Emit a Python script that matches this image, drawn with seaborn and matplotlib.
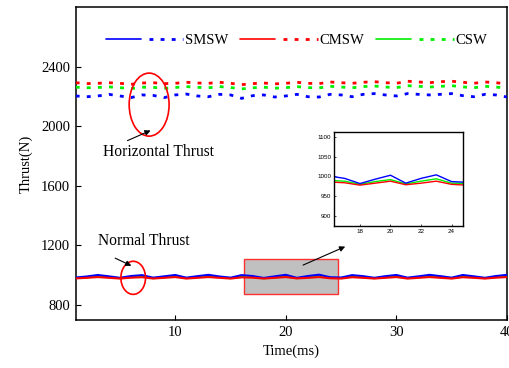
import numpy as np
import pandas as pd
import matplotlib
matplotlib.use("Agg")
import matplotlib.pyplot as plt
import seaborn as sns
from matplotlib.lines import Line2D
from matplotlib.patches import Ellipse, Rectangle
from matplotlib.legend_handler import HandlerTuple

# ---------------- data ----------------
time_ms = list(range(1, 41))
series_names = ["SMSW", "CMSW", "CSW"]
series_colors = ["#0000ff", "#ff0000", "#00ee00"]

horiz_smsw = [2203, 2198, 2203, 2214, 2203, 2192, 2210, 2207, 2192, 2210,
              2216, 2203, 2198, 2214, 2210, 2187, 2205, 2210, 2196, 2203,
              2214, 2198, 2196, 2214, 2210, 2198, 2214, 2219, 2210, 2203,
              2219, 2214, 2210, 2214, 2219, 2205, 2198, 2214, 2210, 2196]
horiz_cmsw = [2292, 2286, 2288, 2292, 2288, 2281, 2290, 2292, 2286, 2288,
              2295, 2290, 2288, 2295, 2288, 2279, 2286, 2290, 2284, 2288,
              2295, 2288, 2286, 2297, 2292, 2288, 2295, 2299, 2292, 2288,
              2302, 2297, 2292, 2299, 2302, 2295, 2288, 2297, 2292, 2284]
horiz_csw = [2262, 2258, 2260, 2264, 2259, 2252, 2262, 2261, 2254, 2260,
             2266, 2261, 2258, 2266, 2260, 2250, 2258, 2262, 2255, 2259,
             2266, 2259, 2257, 2268, 2263, 2258, 2266, 2270, 2263, 2259,
             2272, 2268, 2263, 2268, 2272, 2264, 2258, 2268, 2263, 2255]

norm_smsw = [985, 992, 1002, 993, 983, 995, 1001, 984, 993, 1002,
             984, 994, 1003, 992, 984, 1001, 995, 982, 993, 1003,
             983, 995, 1004, 987, 985, 1001, 994, 983, 994, 1002,
             984, 993, 1003, 994, 984, 1002, 993, 983, 995, 1003]
norm_cmsw = [979, 983, 988, 983, 978, 984, 987, 978, 983, 988,
             978, 983, 988, 983, 978, 986, 984, 978, 983, 988,
             979, 983, 988, 980, 978, 987, 983, 978, 983, 988,
             978, 983, 988, 983, 978, 987, 983, 978, 984, 988]
norm_csw = [982, 987, 993, 987, 981, 988, 992, 981, 987, 993,
            981, 987, 993, 987, 981, 990, 988, 980, 987, 992,
            981, 988, 994, 983, 982, 991, 987, 981, 987, 993,
            981, 987, 993, 987, 981, 991, 987, 981, 988, 993]

x_ticks = [10, 20, 30, 40]
y_ticks = [800, 1200, 1600, 2000, 2400]
inset_x_ticks = [18, 20, 22, 24]
inset_y_ticks = [900, 950, 1000, 1050, 1100]

horiz = {"SMSW": horiz_smsw, "CMSW": horiz_cmsw, "CSW": horiz_csw}
norm = {"SMSW": norm_smsw, "CMSW": norm_cmsw, "CSW": norm_csw}

# ---------------- style ----------------
sns.set_theme(style="ticks")
plt.rcParams["font.family"] = ["Liberation Serif", "DejaVu Serif"]
plt.rcParams["font.size"] = 10.5
for k in ["text.color", "axes.labelcolor", "xtick.color", "ytick.color", "axes.edgecolor"]:
    plt.rcParams[k] = "black"

W, H = 509, 368
fig = plt.figure(figsize=(W / 100, H / 100), dpi=100)
ax = fig.add_axes([75.7 / W, 1 - 320 / H, (507 - 75.7) / W, (320 - 7) / H])

dot_style = (0, (1.4, 2.6))
cmap = dict(zip(series_names, series_colors))

for name in ["CSW", "CMSW", "SMSW"]:
    df_h = pd.DataFrame({"t": time_ms, "v": horiz[name]})
    sns.lineplot(data=df_h, x="t", y="v", ax=ax, color=cmap[name],
                 linewidth=2.0, linestyle=dot_style, estimator=None, zorder=3)
for name in ["CSW", "SMSW", "CMSW"]:
    df_n = pd.DataFrame({"t": time_ms, "v": norm[name]})
    sns.lineplot(data=df_n, x="t", y="v", ax=ax, color=cmap[name],
                 linewidth=1.5, estimator=None, zorder=3)

ax.set_xlim(1, 40)
ax.set_ylim(700, 2800)
ax.set_xticks(x_ticks)
ax.set_yticks(y_ticks)
ax.set_xlabel("Time(ms)", fontsize=10.5, labelpad=4)
ax.set_ylabel("Thrust(N)", fontsize=10.5, labelpad=6)
ax.tick_params(direction="in", length=3.5, width=0.8, labelsize=10.5, pad=4, colors="black")
for s in ax.spines.values():
    s.set_linewidth(1.1)
    s.set_color("black")

# zoom rectangle
ax.add_patch(Rectangle((16.25, 876), 24.7 - 16.25, 1111 - 876,
                       facecolor="#c0c0c0", edgecolor="#ff3030", lw=1.0, zorder=2))

# ellipses
ax.add_patch(Ellipse((7.64, 2145), 3.61, 423, fill=False, edgecolor="red", lw=1.2, zorder=4))
ax.add_patch(Ellipse((6.2, 983), 2.23, 222, fill=False, edgecolor="red", lw=1.2, zorder=4))

arrow_kw = dict(arrowstyle="-|>", color="black", lw=0.8, mutation_scale=8)
ax.annotate("", xy=(8.0, 1979), xytext=(5.45, 1896), arrowprops=arrow_kw, zorder=5)
ax.annotate("", xy=(6.26, 1056), xytext=(4.34, 1123), arrowprops=arrow_kw, zorder=5)
ax.annotate("", xy=(25.6, 1200), xytext=(21.33, 1061), arrowprops=arrow_kw, zorder=5)

ax.text(3.47, 1827, "Horizontal Thrust", fontsize=11.2, va="center", ha="left")
ax.text(2.99, 1233, "Normal Thrust", fontsize=11.2, va="center", ha="left")

# legend
handles = []
for c in series_colors:
    h1 = Line2D([], [], color=c, lw=1.2)
    h2 = Line2D([], [], color=c, lw=2.0, linestyle=dot_style)
    handles.append((h1, h2))
fig.legend(handles, series_names,
           handler_map={tuple: HandlerTuple(ndivide=None, pad=0.55)},
           ncol=3, frameon=False, loc="center left",
           bbox_to_anchor=(106 / W, 1 - 40 / H), borderpad=0, borderaxespad=0,
           handlelength=5.3, handletextpad=0.1, columnspacing=0.85, fontsize=10.5)

# inset
axi = fig.add_axes([334 / W, 1 - 226 / H, (463 - 334) / W, (226 - 132) / H])
for name in ["CSW", "CMSW", "SMSW"]:
    df_n = pd.DataFrame({"t": time_ms, "v": norm[name]})
    sns.lineplot(data=df_n, x="t", y="v", ax=axi, color=cmap[name],
                 linewidth=1.0, estimator=None)
axi.set_xlim(16.3, 24.75)
axi.set_ylim(875, 1112)
axi.set_xticks(inset_x_ticks)
axi.set_yticks(inset_y_ticks)
axi.set_xlabel("")
axi.set_ylabel("")
axi.tick_params(direction="in", length=1.5, width=0.5, labelsize=4.5, pad=2)
for lbl in axi.get_xticklabels() + axi.get_yticklabels():
    lbl.set_family(["Liberation Sans", "DejaVu Sans"])
for s in axi.spines.values():
    s.set_linewidth(1.0)
    s.set_color("black")

fig.savefig("out.png", dpi=100)
